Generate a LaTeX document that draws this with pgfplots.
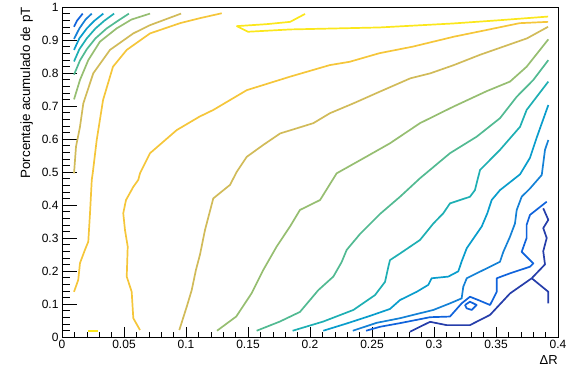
\documentclass[border=0pt]{standalone}
\usepackage{fontspec}
\setmainfont{Liberation Sans}
\usepackage{pgfplots}
\pgfplotsset{compat=1.18}
\definecolor{Lq}{HTML}{263EAA}
\definecolor{Lp}{HTML}{1063DC}
\definecolor{Lo}{HTML}{1481D6}
\definecolor{Ln}{HTML}{099DCC}
\definecolor{Lm}{HTML}{1EAFB3}
\definecolor{Ll}{HTML}{52BA92}
\definecolor{Lk}{HTML}{96BE71}
\definecolor{Lj}{HTML}{D1BB59}
\definecolor{Li}{HTML}{F5C63A}
\definecolor{LR}{HTML}{FBE71C}
\begin{document}
\begin{tikzpicture}
\useasboundingbox (-62pt,-33pt) rectangle (507pt,337pt);
\begin{axis}[
  scale only axis, width=496pt, height=330pt,
  xmin=0, xmax=0.4, ymin=0, ymax=1,
  xtick={0,0.05,0.1,0.15,0.2,0.25,0.3,0.35,0.4},
  ytick={0,0.1,0.2,0.3,0.4,0.5,0.6,0.7,0.8,0.9,1},
  minor x tick num=4, minor y tick num=4,
  tick align=inside, xtick pos=bottom, ytick pos=left,
  xtick style={/pgfplots/major tick length=10pt,/pgfplots/minor tick length=5pt,line width=0.6pt,black},
  ytick style={/pgfplots/major tick length=15pt,/pgfplots/minor tick length=7.5pt,line width=0.6pt,black},
  axis line style={line width=0.8pt},
  tick label style={font=\fontsize{12}{12}\selectfont},
  /pgf/number format/assume math mode=true,
  /pgf/number format/fixed, /pgf/number format/precision=2,
  xlabel={ΔR},
  xlabel style={at={(rel axis cs:1,0)}, anchor=north east, inner sep=0pt, yshift=-18pt, font=\fontsize{13}{13}\selectfont},
  ylabel={Porcentaje acumulado de pT},
  ylabel style={at={(rel axis cs:-0.0585,1)}, anchor=south east, inner sep=0pt, font=\fontsize{13.4}{13.4}\selectfont},
  every axis plot/.append style={line width=1.7pt, no markers, line join=round},
]
% top-left corner lines
\addplot[Lp] coordinates {(0.0097,0.940) (0.012,0.958) (0.0167,0.980)};
\addplot[Lo] coordinates {(0.0097,0.903) (0.014,0.935) (0.019,0.962) (0.024,0.980)};
\addplot[Ln] coordinates {(0.0097,0.870) (0.014,0.905) (0.020,0.935) (0.026,0.958) (0.0333,0.980)};
\addplot[Lm] coordinates {(0.0097,0.835) (0.014,0.872) (0.020,0.905) (0.027,0.935) (0.034,0.958) (0.042,0.980)};
\addplot[Ll] coordinates {(0.0097,0.795) (0.0145,0.838) (0.020,0.872) (0.027,0.905) (0.036,0.935) (0.045,0.958) (0.054,0.980)};
\addplot[Lk] coordinates {(0.0097,0.720) (0.0145,0.779) (0.0212,0.839) (0.0306,0.895) (0.044,0.935) (0.056,0.962) (0.071,0.980)};
\addplot[Lj] coordinates {(0.0097,0.496) (0.0113,0.577) (0.0145,0.637) (0.0172,0.708) (0.0252,0.799) (0.0387,0.870) (0.0575,0.920) (0.071,0.945) (0.096,0.980)};
\addplot[Li] coordinates {(0.0097,0.137) (0.0131,0.173) (0.0145,0.224) (0.0185,0.264) (0.0212,0.289) (0.0226,0.376) (0.024,0.476) (0.0248,0.497) (0.028,0.597) (0.0331,0.718) (0.0411,0.819) (0.0522,0.870) (0.071,0.920) (0.0952,0.951) (0.111,0.966) (0.1288,0.981)};
% long lines
\addplot[Li] coordinates {(0.0629,0.021) (0.0575,0.057) (0.0562,0.137) (0.0522,0.183) (0.053,0.274) (0.0508,0.324) (0.0494,0.375) (0.0516,0.415) (0.0575,0.455) (0.0615,0.476) (0.0629,0.496) (0.071,0.557) (0.0925,0.627) (0.111,0.668) (0.122,0.688) (0.149,0.748) (0.184,0.789) (0.216,0.824) (0.232,0.834) (0.256,0.860) (0.283,0.880) (0.316,0.910) (0.342,0.930) (0.369,0.951) (0.392,0.955)};
\addplot[Lj] coordinates {(0.0946,0.021) (0.1006,0.092) (0.1046,0.142) (0.108,0.203) (0.1113,0.250) (0.1153,0.324) (0.122,0.420) (0.1355,0.461) (0.141,0.501) (0.149,0.546) (0.1623,0.582) (0.176,0.617) (0.189,0.632) (0.2027,0.648) (0.216,0.678) (0.235,0.708) (0.256,0.743) (0.281,0.784) (0.297,0.799) (0.316,0.824) (0.337,0.855) (0.356,0.880) (0.375,0.905) (0.392,0.940)};
\addplot[Lk] coordinates {(0.125,0.019) (0.1405,0.062) (0.153,0.133) (0.1623,0.203) (0.1731,0.274) (0.1839,0.335) (0.1919,0.385) (0.2081,0.415) (0.2215,0.496) (0.2457,0.547) (0.2645,0.587) (0.2887,0.648) (0.3156,0.698) (0.3425,0.745) (0.3613,0.774) (0.3747,0.819) (0.3922,0.902)};
\addplot[Ll] coordinates {(0.157,0.019) (0.1758,0.047) (0.1919,0.076) (0.2067,0.142) (0.2188,0.183) (0.2255,0.227) (0.2296,0.264) (0.2403,0.312) (0.2565,0.373) (0.2726,0.425) (0.2887,0.481) (0.3129,0.557) (0.3344,0.607) (0.3532,0.663) (0.3667,0.728) (0.3801,0.779) (0.3922,0.839)};
\addplot[Lm] coordinates {(0.186,0.019) (0.2108,0.047) (0.235,0.082) (0.2524,0.127) (0.2605,0.167) (0.2632,0.213) (0.2645,0.233) (0.2726,0.253) (0.2887,0.294) (0.2995,0.344) (0.3075,0.375) (0.3129,0.405) (0.329,0.425) (0.333,0.445) (0.3371,0.506) (0.3532,0.567) (0.3694,0.637) (0.3747,0.688) (0.3922,0.774)};
\addplot[Ln] coordinates {(0.2107,0.019) (0.2296,0.041) (0.2484,0.064) (0.2645,0.085) (0.2726,0.112) (0.2861,0.137) (0.2954,0.158) (0.2981,0.178) (0.3115,0.183) (0.3196,0.199) (0.3223,0.229) (0.3264,0.269) (0.3385,0.335) (0.343,0.375) (0.3465,0.415) (0.3532,0.445) (0.3694,0.493) (0.3774,0.543) (0.3828,0.604) (0.3922,0.703)};
\addplot[Lo] coordinates {(0.2345,0.019) (0.2538,0.043) (0.2726,0.057) (0.2887,0.072) (0.2995,0.082) (0.3129,0.102) (0.3223,0.117) (0.3236,0.152) (0.3264,0.178) (0.3344,0.193) (0.3452,0.213) (0.3532,0.228) (0.3559,0.258) (0.3613,0.304) (0.3653,0.344) (0.3667,0.385) (0.3707,0.425) (0.3774,0.450) (0.3869,0.491) (0.3895,0.567) (0.3922,0.597)};
\addplot[Lp] coordinates {(0.2452,0.019) (0.2565,0.031) (0.2726,0.042) (0.2968,0.060) (0.3129,0.062) (0.3223,0.102) (0.329,0.122) (0.3357,0.112) (0.3452,0.097) (0.3506,0.137) (0.3506,0.178) (0.3613,0.193) (0.3774,0.213) (0.3801,0.223) (0.3707,0.258) (0.3747,0.300) (0.3747,0.340) (0.3774,0.370) (0.3909,0.410)};
\addplot[Lq] coordinates {(0.2806,0.016) (0.2968,0.046) (0.3102,0.036) (0.329,0.036) (0.3452,0.067) (0.3613,0.132) (0.3788,0.178) (0.3895,0.220) (0.3881,0.260) (0.3909,0.300) (0.3881,0.330) (0.3922,0.355) (0.3881,0.390)};
\addplot[Lq] coordinates {(0.3788,0.178) (0.3922,0.137) (0.3922,0.102)};
\addplot[Lp] coordinates {(0.325,0.097) (0.329,0.107) (0.3344,0.097) (0.3304,0.082) (0.3263,0.087) (0.325,0.097)};
\addplot[LR] coordinates {(0.196,0.979) (0.184,0.955) (0.165,0.948) (0.141,0.942) (0.150,0.925) (0.184,0.932) (0.256,0.938) (0.315,0.950) (0.353,0.960) (0.392,0.971)};
\addplot[LR] coordinates {(0.0212,0.019) (0.0293,0.019)};
\end{axis}
\end{tikzpicture}
\end{document}
